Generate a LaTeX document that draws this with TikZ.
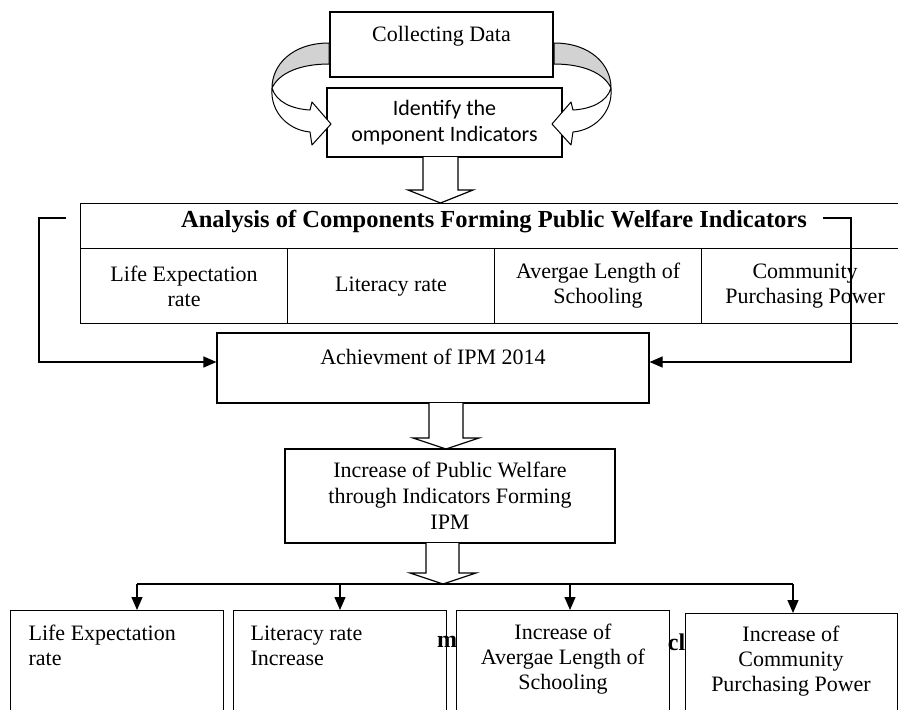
\documentclass[tikz,border=0pt]{standalone}
\usepackage{fontspec}
\setmainfont{Liberation Serif}
\newfontfamily\carlitofont{Carlito}
\usetikzlibrary{arrows.meta}
\begin{document}
\begin{tikzpicture}[x=1pt,y=-1pt,line width=1.2pt,
  box/.style={draw,fill=white,inner sep=0pt},
  txt/.style={font=\fontsize{22}{25}\selectfont,align=center,inner sep=0pt},
  hdr/.style={font=\bfseries\fontsize{24.5}{28}\selectfont,inner sep=0pt},
  frag/.style={font=\bfseries\fontsize{24}{28}\selectfont,inner sep=0pt},
  arr/.style={-{Triangle[length=13pt,width=11pt]}},
  hollow/.style={draw,fill=white,line join=miter},
  ribbon/.style={draw,line width=1pt,line join=round}]
\useasboundingbox (0,0) rectangle (898,710);

% top boxes
\node[box,minimum width=223pt,minimum height=65pt] (cd) at (441.5,44.5) {};
\node[txt] (cdt) at (441.5,36) {Collecting Data};
\node[box,minimum width=235pt,minimum height=69pt,
      font=\carlitofont\fontsize{22}{26}\selectfont,align=center] (id) at (444.5,122.5)
      {Identify the\\omponent Indicators};

% curved ribbon arrows
\draw[ribbon,fill=gray!35] (329,43) .. controls (292,43) and (272,65) .. (272,88)
   .. controls (279,73) and (300,64) .. (329,64) -- cycle;
\draw[ribbon,fill=white] (272,88) .. controls (276,102) and (292,109) .. (310,110)
   -- (312,102) -- (331,124) -- (312,145) -- (310,132)
   .. controls (288,130) and (270,112) .. (272,88) -- cycle;
\begin{scope}[shift={(883,0)},xscale=-1]
\draw[ribbon,fill=gray!35] (329,43) .. controls (292,43) and (272,65) .. (272,88)
   .. controls (279,73) and (300,64) .. (329,64) -- cycle;
\draw[ribbon,fill=white] (272,88) .. controls (276,102) and (292,109) .. (310,110)
   -- (312,102) -- (331,124) -- (312,145) -- (310,132)
   .. controls (288,130) and (270,112) .. (272,88) -- cycle;
\end{scope}

% analysis table
\node[box,anchor=north west,minimum width=830pt,minimum height=45pt] (an) at (80,203) {};
\node[hdr] (ant) at (494,222) {Analysis of Components Forming Public Welfare Indicators};
\node[box,txt,anchor=north west,minimum width=207pt,minimum height=75pt] (c1) at (80,248) {Life Expectation\\rate};
\node[box,txt,anchor=north west,minimum width=207pt,minimum height=75pt] (c2) at (287,248) {Literacy rate};
\node[box,txt,anchor=north west,minimum width=207pt,minimum height=75pt] (c3) at (494,248) {Avergae Length of\\Schooling};
\node[box,txt,anchor=north west,minimum width=207pt,minimum height=75pt] (c4) at (701,248) {Community\\Purchasing Power};

% hollow arrow 1
\draw[hollow] (423,157) -- (423,190) -- (408,190) -- (440.5,203) -- (473,190) -- (458,190) -- (458,157);

% achievement
\node[box,minimum width=432pt,minimum height=70pt] (ach) at (433,368) {};
\node[txt] (acht) at (433,357) {Achievment of IPM 2014};

% feedback connectors
\coordinate (fl) at (66,218);
\coordinate (fr) at (823,218);
\draw[arr] (fl) -- ++(-27,0) |- ([yshift=6pt]ach.west);
\draw[arr] (fr) -- ++(28,0) |- ([yshift=6pt]ach.east);

% hollow arrow 2
\draw[hollow] (429,403) -- (429,438) -- (413,438) -- (446,449) -- (479,438) -- (463,438) -- (463,403);

% public welfare
\node[box,minimum width=330pt,minimum height=94pt,font=\fontsize{22}{26}\selectfont,align=center] (pw) at (450,496)
  {Increase of Public Welfare\\through Indicators Forming\\IPM};

% hollow arrow 3
\draw[hollow] (426,543) -- (426,573) -- (410,573) -- (443,584) -- (476,573) -- (459,573) -- (459,543);

% bottom boxes
\node[box,anchor=north west,minimum width=213pt,minimum height=115pt] (b1) at (10,610) {};
\node[box,anchor=north west,minimum width=213pt,minimum height=115pt] (b2) at (233,610) {};
\node[frag] (fm) at (447,642) {m};
\node[box,anchor=north west,minimum width=213pt,minimum height=115pt] (b3) at (456,610) {};
\node[frag] (fc) at (676.5,642) {cl};
\node[box,anchor=north west,minimum width=212pt,minimum height=115pt] (b4) at (685,613) {};

\node[txt,align=left,anchor=west] (b1t) at (28,645.5) {Life Expectation\\rate};
\node[txt,align=left,anchor=west] (b2t) at (250,645.5) {Literacy rate\\Increase};
\node[txt] (b3t) at (563,659) {Increase of\\Avergae Length of\\Schooling};
\node[txt] (b4t) at (791,661) {Increase of\\Community\\Purchasing Power};

% distribution bus
\coordinate (t1) at (137,584);
\coordinate (t2) at (340,584);
\coordinate (t3) at (570,584);
\coordinate (t4) at (793,584);
\draw (t1) -- (t4);
\draw[arr] (t1) -- (b1.north -| t1);
\draw[arr] (t2) -- (b2.north -| t2);
\draw[arr] (t3) -- (b3.north -| t3);
\draw[arr] (t4) -- (b4.north -| t4);
\end{tikzpicture}
\end{document}
